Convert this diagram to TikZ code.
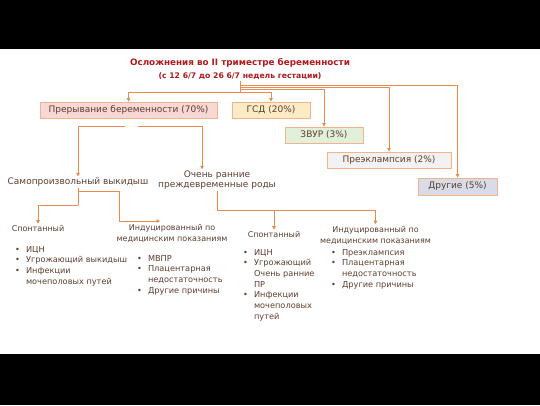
\documentclass[tikz,border=0pt]{standalone}
\usepackage{fontspec}
\setmainfont{DejaVu Sans}
\usetikzlibrary{arrows.meta}

\definecolor{linec}{RGB}{233,138,78}
\definecolor{boxline}{RGB}{240,180,140}
\definecolor{txt}{RGB}{92,61,46}
\definecolor{titlec}{RGB}{176,25,30}
\definecolor{pinkc}{RGB}{248,215,213}
\definecolor{yellc}{RGB}{253,235,198}
\definecolor{greenc}{RGB}{226,239,217}
\definecolor{greyc}{RGB}{243,241,241}
\definecolor{bluec}{RGB}{216,220,233}

\begin{document}
\begin{tikzpicture}[x=1pt,y=-1pt,
    link/.style={draw=linec,line width=0.8pt},
    arr/.style={link,-{Triangle[length=3.5pt,width=3.5pt]}},
    box/.style={draw=boxline,line width=0.8pt,text=txt,inner sep=1pt,
        minimum height=16pt,font=\fontsize{9}{10}\selectfont},
    lab/.style={text=txt,align=center,inner sep=1pt,font=\fontsize{9}{10.5}\selectfont},
    sub/.style={text=txt,align=center,inner sep=2pt,font=\fontsize{8}{11}\selectfont},
    list/.style={anchor=north west,inner sep=0pt,text=txt,font=\fontsize{8.2}{10.7}\selectfont}]

\useasboundingbox (0,0) rectangle (540,405);
\fill[black] (0,0) rectangle (540,49);
\fill[black] (0,354) rectangle (540,405);

% heading
\node[text=titlec,font=\bfseries\fontsize{8.8}{10}\selectfont,inner sep=0pt] (title) at (240,63) {Осложнения во II триместре беременности};
\node[text=titlec,font=\bfseries\fontsize{7.7}{9}\selectfont,inner sep=1pt] (subtitle) at (240,76) {(с 12 6/7 до 26 6/7 недель гестации)};

% first level
\node[box,fill=pinkc,minimum width=177pt] (abort) at (128.5,110) {Прерывание беременности (70\%)};
\node[box,fill=yellc,minimum width=78pt] (gsd) at (271,110) {ГСД (20\%)};
\node[box,fill=greenc,minimum width=78pt] (ivr) at (324,135) {ЗВУР (3\%)};
\node[box,fill=greyc,minimum width=124pt] (pre) at (389,160) {Преэклампсия (2\%)};
\node[box,fill=bluec,minimum width=79pt,minimum height=17pt] (other) at (457.5,186.5) {Другие (5\%)};

\coordinate (hubA) at (240,92);
\coordinate (hubB) at (240,89.5);
\coordinate (hubC) at (240,87.5);
\coordinate (hubD) at (240,85.5);

\draw[link] (subtitle.south) -- (hubA);
\draw[arr] (hubA) -| (abort);
\draw[arr] (hubA) -| (gsd);
\draw[arr] (hubB) -| (ivr);
\draw[arr] (hubC) -| (pre);
\draw[arr] (hubD) -| (other);

% second level
\node[lab] (misc) at (78,182) {Самопроизвольный выкидыш};
\node[lab] (preterm) at (217,180) {Очень ранние\\преждевременные роды};

\coordinate (gapL) at (125,126);
\coordinate (gapR) at (138,126);
\draw[arr] (gapL) -| (misc);
\draw[arr] (gapR) -| ([xshift=-15]preterm.north);

% third level, left
\node[sub] (spont1) at (38,229) {Спонтанный};
\node[sub] (ind1) at (172,233.5) {Индуцированный по\\медицинским показаниям};

\coordinate (lj) at (78,205);
\coordinate (lt) at (78,191);
\coordinate (c1) at (119,221);
\coordinate (c2) at (160,221);
\draw[link] (misc) -- (lj);
\draw[arr] (lj) -| (spont1);
\draw[arr] (lt) -| (c1) -- (c2);

% third level, right
\node[sub] (spont2) at (274,235) {Спонтанный};
\node[sub] (ind2) at (375.5,235.5) {Индуцированный по\\медицинским показаниям};

\coordinate (rj) at (217,210);
\draw[link] (preterm) -- (rj);
\draw[arr] (rj) -| (spont2);
\draw[arr] (rj) -| (ind2);

% lists
\node[list] (list1) at (15,244.5) {\begin{tabular}{@{}l@{\hspace{6pt}}l@{}}
•&ИЦН\\ •&Угрожающий выкидыш\\ •&Инфекции\\ &мочеполовых путей\end{tabular}};
\node[list] (list2) at (137,253.5) {\begin{tabular}{@{}l@{\hspace{6pt}}l@{}}
•&МВПР\\ •&Плацентарная\\ &недостаточность\\ •&Другие причины\end{tabular}};
\node[list] (list3) at (243,247.5) {\begin{tabular}{@{}l@{\hspace{6pt}}l@{}}
•&ИЦН\\ •&Угрожающий\\ &Очень ранние\\ &ПР\\ •&Инфекции\\ &мочеполовых\\ &путей\end{tabular}};
\node[list] (list4) at (331,247.5) {\begin{tabular}{@{}l@{\hspace{6pt}}l@{}}
•&Преэклампсия\\ •&Плацентарная\\ &недостаточность\\ •&Другие причины\end{tabular}};

\end{tikzpicture}
\end{document}
